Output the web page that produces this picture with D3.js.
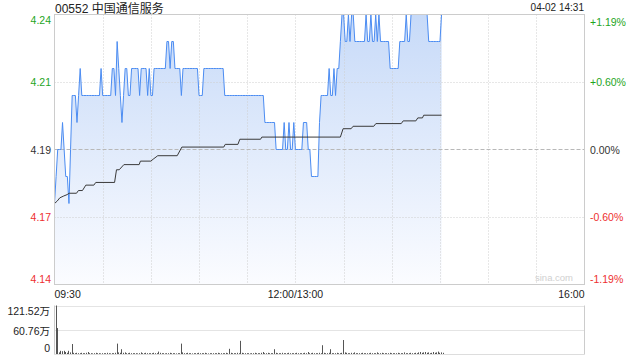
<!DOCTYPE html>
<html><head><meta charset="utf-8">
<script src="https://cdn.jsdelivr.net/npm/d3@7/dist/d3.min.js"></script>
<style>
html,body{margin:0;padding:0;background:#fff;}
svg{display:block;font-family:"Liberation Sans",Arial,"Noto Sans CJK SC",sans-serif;}
</style></head>
<body><svg id="c" width="640" height="360"></svg>
<script>
const title = "00552 中国通信服务";
const stamp = "04-02 14:31";
const prevClose = 4.19;
const priceGrid = [4.24, 4.215, 4.19, 4.165, 4.14];
const priceTicks = ["4.24", "4.21", "4.19", "4.17", "4.14"];
const pctTicks = ["+1.19%", "+0.60%", "0.00%", "-0.60%", "-1.19%"];
const timeLabels = ["09:30", "12:00/13:00", "16:00"];
const timeLabelMin = [0, 150, 330];
const volTicks = ["121.52万", "60.76万", "0"];
const volMax = 121.52;

// one value per minute from 09:30 (index 0) to 14:31 (index 241)
const price = [
4.17,4.18,4.19,4.19,4.19,4.20,4.19,4.18,4.18,4.17,
4.19,4.21,4.21,4.21,4.20,4.21,4.22,4.21,4.21,4.21,
4.21,4.21,4.21,4.21,4.21,4.21,4.21,4.21,4.21,4.22,
4.21,4.21,4.21,4.21,4.21,4.21,4.22,4.22,4.21,4.23,
4.22,4.21,4.20,4.21,4.22,4.22,4.21,4.21,4.22,4.22,
4.22,4.22,4.22,4.21,4.22,4.22,4.22,4.22,4.21,4.22,
4.21,4.21,4.22,4.22,4.22,4.22,4.22,4.22,4.22,4.22,
4.23,4.23,4.22,4.23,4.23,4.22,4.22,4.22,4.22,4.21,
4.22,4.22,4.22,4.22,4.22,4.22,4.22,4.22,4.22,4.22,
4.21,4.21,4.21,4.22,4.22,4.22,4.22,4.22,4.22,4.22,
4.22,4.22,4.22,4.22,4.22,4.22,4.21,4.21,4.21,4.21,
4.21,4.21,4.21,4.21,4.21,4.21,4.21,4.21,4.21,4.21,
4.21,4.21,4.21,4.21,4.21,4.21,4.21,4.21,4.21,4.21,
4.21,4.20,4.20,4.20,4.20,4.20,4.20,4.20,4.19,4.19,
4.19,4.19,4.19,4.20,4.19,4.19,4.20,4.19,4.19,4.20,
4.19,4.19,4.19,4.19,4.19,4.20,4.20,4.20,4.19,4.19,
4.18,4.18,4.18,4.18,4.18,4.20,4.21,4.21,4.21,4.21,
4.21,4.22,4.21,4.21,4.22,4.21,4.22,4.22,4.23,4.24,
4.24,4.23,4.23,4.24,4.23,4.24,4.24,4.23,4.23,4.23,
4.23,4.23,4.23,4.23,4.24,4.23,4.23,4.24,4.23,4.23,
4.24,4.23,4.24,4.23,4.23,4.23,4.23,4.23,4.23,4.22,
4.22,4.22,4.22,4.22,4.22,4.23,4.23,4.23,4.23,4.24,
4.23,4.23,4.24,4.24,4.24,4.24,4.24,4.24,4.24,4.24,
4.24,4.24,4.24,4.23,4.23,4.23,4.23,4.23,4.23,4.23,
4.23,4.24
];

// average price line, read at its turning points
const avgMin = [0,1.7,3.3,5.8,7.9,9.1,13.7,14.9,17.4,19.5,24.5,25.7,37.4,38.6,40.3,43.2,52.7,53.5,60,61.4,64.3,76.4,79.3,105.4,106.3,114.2,115.4,128.3,129.1,178,179.7,184.7,185.9,198.8,200.1,215.9,217.1,225,226.2,229.1,229.9,241];
const avgVal = [4.1700,4.1709,4.1721,4.1728,4.1733,4.1738,4.1738,4.1748,4.1748,4.1768,4.1768,4.1778,4.1778,4.1825,4.1825,4.1844,4.1844,4.1857,4.1857,4.1864,4.1877,4.1877,4.1909,4.1909,4.1919,4.1919,4.1938,4.1938,4.1946,4.1946,4.1977,4.1977,4.1986,4.1986,4.1996,4.1996,4.2006,4.2006,4.2017,4.2017,4.2027,4.2027];

// volume per minute, in 万
const volume = [
121.52,65,4,8,7,8,5,3,8,4,
25,3,2,3,2,2,3,2,2,3,
5,2,2,1.5,2,3,2,2,1.5,2,
2,2,3,2,1.5,2,2,3,26,4,
3,12,3,4,2,2,3,2,2,2,
2,1.5,2,4,2,2,3,2,2,2,
2,3,2,2,6,3,2,2,1.5,2,
2,3,2,2,2,1.5,2,2,26,4,
2,2,3,2,2,1.5,2,2,2,3,
2,2,2,3,2,1.5,2,2,2,2,
2,3,2,2,2,2,3,2,13,3,
2,2,2,3,2,33,3,2,2,2,
2,1.5,2,2,3,2,2,2,3,5,
2,2,3,2,2,2,12,3,2,2,
2,3,2,2,2,3,2,2,2,2,
3,2,2,2,2,3,2,5,2,2,
3,2,2,2,3,2,22,3,2,2,
3,12,2,2,2,3,2,2,3,35,
4,3,2,2,3,2,4,2,2,2,
2,3,2,2,2,2,3,2,2,2,
4,2,2,3,2,2,2,2,3,2,
2,2,2,3,2,2,2,4,2,2,
2,3,2,2,3,2,4,5,3,4,
5,3,4,2,3,5,3,4,6,3,
4,3
];

const L = 54.5, R = 584.5, T = 14.5, B = 284.5;
const VT = 305.5, VB = 354.5;
const GREEN = "#1ea51e", RED = "#ee2f2f", DARK = "#333";
const labelColor = i => i < 2 ? GREEN : (i === 2 ? DARK : RED);

const svg = d3.select("#c");
const x = d3.scaleLinear().domain([0, 330]).range([L, R]);
const y = d3.scaleLinear().domain([4.14, 4.24]).range([B, T]);
const yv = d3.scaleLinear().domain([0, volMax]).range([VB - 0.5, VT]);

// gradient
const defs = svg.append("defs");
const g = defs.append("linearGradient").attr("id", "fillG")
  .attr("gradientUnits", "userSpaceOnUse").attr("x1", 0).attr("x2", 0).attr("y1", T).attr("y2", B);
g.append("stop").attr("offset", 0).attr("stop-color", "#c7daf8");
g.append("stop").attr("offset", 1).attr("stop-color", "#fbfcff");

// area + lines
const pts = price.map((p, i) => [i, p]);
svg.append("path").datum(pts)
  .attr("d", d3.area().x(d => x(d[0])).y0(B).y1(d => y(d[1])))
  .attr("fill", "url(#fillG)");

// grid: vertical
const vMins = d3.range(30, 330, 30);
svg.append("g").selectAll("line").data(vMins).join("line")
  .attr("x1", d => Math.round(x(d)) + 0.5).attr("x2", d => Math.round(x(d)) + 0.5)
  .attr("y1", T).attr("y2", B)
  .attr("stroke", "#cfcfcf").attr("stroke-dasharray", "1,2");
// grid: horizontal
svg.append("g").selectAll("line").data(priceGrid.slice(1, 4)).join("line")
  .attr("x1", L).attr("x2", R)
  .attr("y1", d => Math.round(y(d)) + 0.5).attr("y2", d => Math.round(y(d)) + 0.5)
  .attr("stroke", (d, i) => i === 1 ? "#b8b8b8" : "#cfcfcf")
  .attr("stroke-dasharray", (d, i) => i === 1 ? "4,2" : "1,2");

svg.append("path").datum(pts)
  .attr("d", d3.line().x(d => x(d[0])).y(d => y(d[1])))
  .attr("fill", "none").attr("stroke", "#4b8cf2").attr("stroke-width", 1);

svg.append("path").datum(avgMin.map((m, i) => [m, avgVal[i]]))
  .attr("d", d3.line().x(d => x(d[0])).y(d => y(d[1])))
  .attr("fill", "none").attr("stroke", "#3a3a3a").attr("stroke-width", 1);

// frame
svg.append("rect").attr("x", L).attr("y", T).attr("width", R - L).attr("height", B - T)
  .attr("fill", "none").attr("stroke", "#cccccc");

// axis labels
const labY = [T + 6, y(priceGrid[1]), y(priceGrid[2]) + 0.5, y(priceGrid[3]) + 0.5, B - 5.5];
svg.append("g").selectAll("text").data(priceTicks).join("text")
  .attr("x", 51).attr("y", (d, i) => labY[i]).attr("dy", "0.35em")
  .attr("text-anchor", "end").attr("font-size", 10.5).attr("fill", (d, i) => labelColor(i)).text(d => d);
svg.append("g").selectAll("text").data(pctTicks).join("text")
  .attr("x", 590).attr("y", (d, i) => i === 0 ? labY[0] + 1.5 : labY[i]).attr("dy", "0.35em")
  .attr("text-anchor", "start").attr("font-size", 10.5).attr("fill", (d, i) => labelColor(i)).text(d => d);

svg.append("g").selectAll("text").data(timeLabels).join("text")
  .attr("x", (d, i) => i === 0 ? L : (i === 2 ? R : x(timeLabelMin[i])))
  .attr("y", 297.5)
  .attr("text-anchor", (d, i) => i === 0 ? "start" : (i === 2 ? "end" : "middle"))
  .attr("font-size", 10.5).attr("fill", "#222").text(d => d);

svg.append("text").attr("x", 55).attr("y", 12.5).attr("font-size", 12).attr("fill", "#222").text(title);
svg.append("text").attr("x", 584).attr("y", 10.8).attr("text-anchor", "end").attr("font-size", 10).attr("fill", "#222").text(stamp);
svg.append("text").attr("x", 573).attr("y", 281).attr("text-anchor", "end").attr("font-size", 9.5).attr("fill", "#d0d0d0").text("sina.com");

// volume panel
svg.append("g").selectAll("line").data([volMax, volMax / 2]).join("line")
  .attr("x1", L).attr("x2", R)
  .attr("y1", d => Math.round(yv(d)) + 0.5).attr("y2", d => Math.round(yv(d)) + 0.5)
  .attr("stroke", "#c8c8c8").attr("stroke-dasharray", "1,1");
svg.append("line").attr("x1", L).attr("x2", L).attr("y1", VT).attr("y2", VB).attr("stroke", "#cccccc");
svg.append("line").attr("x1", R).attr("x2", R).attr("y1", VT).attr("y2", VB).attr("stroke", "#cccccc");
svg.append("line").attr("x1", L).attr("x2", R).attr("y1", VB).attr("y2", VB).attr("stroke", "#dddddd");

svg.append("g").selectAll("line").data(volume).join("line")
  .attr("x1", (d, i) => Math.round(x(i)) + 1.5).attr("x2", (d, i) => Math.round(x(i)) + 1.5)
  .attr("y1", VB - 0.5).attr("y2", d => yv(d))
  .attr("stroke", "#555").attr("stroke-width", 1);

const vLabY = [315, 334.5, 352];
svg.append("g").selectAll("text").data(volTicks).join("text")
  .attr("x", 50).attr("y", (d, i) => vLabY[i])
  .attr("text-anchor", "end").attr("font-size", 10.5).attr("fill", "#222").text(d => d);
</script>
</body></html>
